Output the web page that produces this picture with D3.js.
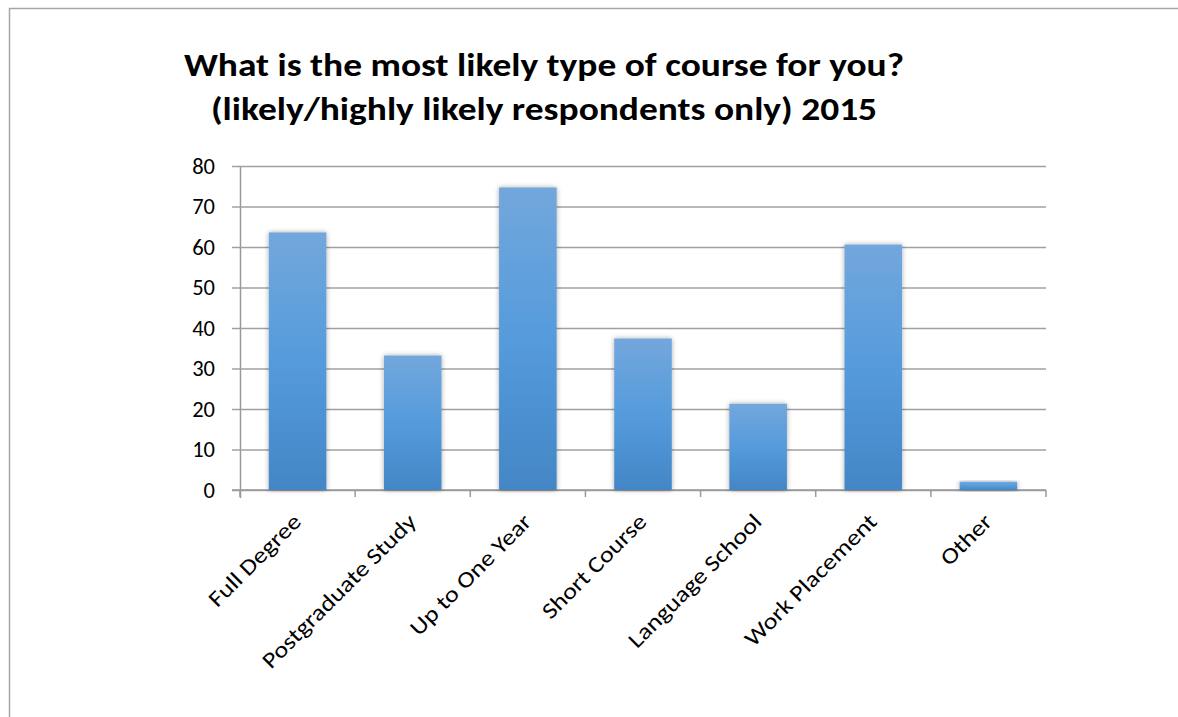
<!DOCTYPE html>
<html>
<head>
<meta charset="utf-8">
<script src="https://cdn.jsdelivr.net/npm/d3@7"></script>
<style>
  html, body { margin: 0; padding: 0; background: #fff; }
  svg { display: block; }
  svg text { font-family: Carlito, Lato, "Open Sans", sans-serif; }
</style>
</head>
<body>
<div id="chart"></div>
<script>
const categories = ["Full Degree", "Postgraduate Study", "Up to One Year", "Short Course",
    "Language School", "Work Placement", "Other"];
const values = [63.6, 33.2, 74.7, 37.4, 21.3, 60.6, 2.05];
const yTicks = [0, 10, 20, 30, 40, 50, 60, 70, 80];
const titleLines = ["What is the most likely type of course for you?",
    "(likely/highly likely respondents only) 2015"];

const width = 1178, height = 717;
const margin = {top: 166, left: 240, right: 132, bottom: 227};
// reference font is a bit wider than what we have installed
const stretch = 1.17;

const svg = d3.select("#chart").append("svg")
    .attr("width", width)
    .attr("height", height);

const defs = svg.append("defs");
const grad = defs.append("linearGradient")
    .attr("id", "barGrad")
    .attr("x1", 0).attr("y1", 0).attr("x2", 0).attr("y2", 1);
grad.append("stop").attr("offset", "0%").attr("stop-color", "#73a7dc");
grad.append("stop").attr("offset", "50%").attr("stop-color", "#559bdc");
grad.append("stop").attr("offset", "100%").attr("stop-color", "#4386c6");

const shadow = defs.append("filter").attr("id", "shadow")
    .attr("x", "-20%").attr("y", "-20%").attr("width", "140%").attr("height", "140%");
shadow.append("feDropShadow")
    .attr("dx", 0).attr("dy", 0).attr("stdDeviation", 2.5)
    .attr("flood-color", "#000").attr("flood-opacity", 0.35);

// chart border (runs off right and bottom)
svg.append("path")
    .attr("d", `M9.5,${height} V8.5 H${width}`)
    .attr("fill", "none")
    .attr("stroke", "#a6a6a6")
    .attr("stroke-width", 1.5);

const x = d3.scaleBand()
    .domain(categories)
    .range([margin.left, width - margin.right])
    .paddingInner(0.5)
    .paddingOuter(0.25);

const y = d3.scaleLinear()
    .domain([0, 80])
    .range([height - margin.bottom, margin.top]);

// gridlines + y labels
const yAxis = d3.axisLeft(y)
    .tickValues(yTicks)
    .tickSize(-(width - margin.right - margin.left))
    .tickSizeOuter(0)
    .tickPadding(25);

const gy = svg.append("g")
    .attr("transform", `translate(${margin.left},0)`)
    .call(yAxis)
    .attr("font-family", null)
    .attr("font-size", null);
gy.selectAll(".tick line")
    .attr("x1", -8)
    .attr("stroke", "#a0a0a0")
    .attr("stroke-width", 1.5);
gy.selectAll(".tick text")
    .attr("font-size", 22.5)
    .attr("fill", "#000");
gy.select(".domain")
    .attr("stroke", "#999").attr("stroke-width", 1.5)
    .attr("d", `M0.5,${margin.top}V${height - margin.bottom + 8}`);

// x axis with boundary ticks
const xAxisG = svg.append("g")
    .attr("transform", `translate(0,${height - margin.bottom})`);
xAxisG.append("line")
    .attr("x1", margin.left - 8).attr("x2", width - margin.right)
    .attr("stroke", "#999").attr("stroke-width", 1.5);
const step = x.step();
const bounds = d3.range(categories.length + 1).map(i => margin.left + i * step);
xAxisG.selectAll("line.bt")
    .data(bounds)
    .enter()
    .append("line")
        .classed("bt", true)
        .attr("x1", d => d).attr("x2", d => d)
        .attr("y1", 0).attr("y2", 7)
        .attr("stroke", "#999").attr("stroke-width", 1.5);

xAxisG.selectAll("text")
    .data(categories)
    .enter()
    .append("text")
        .attr("transform", d => `translate(${x(d) + x.bandwidth() / 2 + 5},${33}) rotate(-45)`)
        .attr("text-anchor", "end")
        .attr("font-size", 22.5)
        .attr("fill", "#000")
        .text(d => d)
        .each(function(){
            const len = this.getComputedTextLength();
            d3.select(this).attr("textLength", len * stretch).attr("lengthAdjust", "spacingAndGlyphs");
        });

// bars
svg.append("g").selectAll("rect")
    .data(values)
    .enter()
    .append("rect")
        .attr("x", (d, i) => x(categories[i]))
        .attr("y", d => y(d))
        .attr("width", x.bandwidth())
        .attr("height", d => y(0) - y(d))
        .attr("fill", "url(#barGrad)")
        .attr("filter", "url(#shadow)");

// title
svg.append("g").selectAll("text")
    .data(titleLines)
    .enter()
    .append("text")
        .attr("x", 544)
        .attr("y", (d, i) => 76 + i * 44)
        .attr("text-anchor", "middle")
        .attr("font-size", 32)
        .attr("font-weight", "bold")
        .attr("fill", "#000")
        .text(d => d)
        .each(function(){
            const len = this.getComputedTextLength();
            d3.select(this).attr("textLength", len * stretch).attr("lengthAdjust", "spacingAndGlyphs");
        });
</script>
</body>
</html>
